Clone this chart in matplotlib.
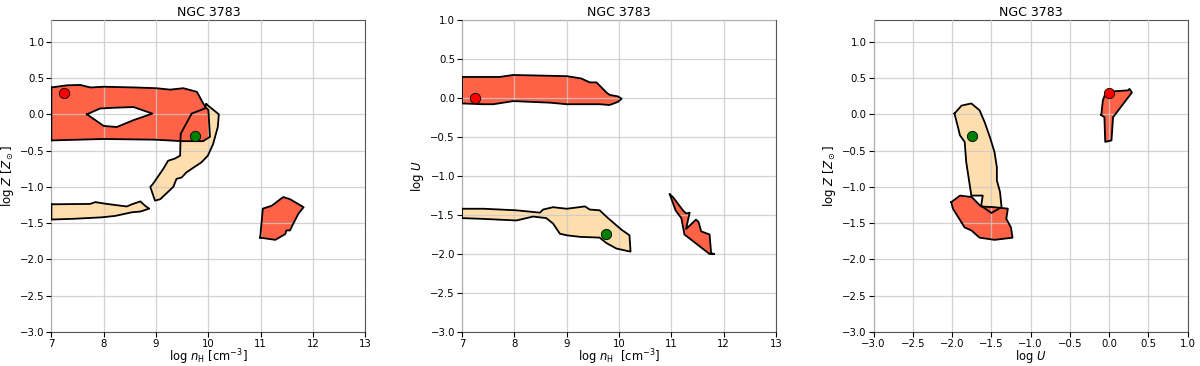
import numpy as np
import matplotlib
matplotlib.use("Agg")
import matplotlib.pyplot as plt
from matplotlib.path import Path
from matplotlib.patches import PathPatch

RED = "tomato"
BEIGE = "navajowhite"

# --- panel 1: log nH vs log Z ---
p1_red_x = [7.0, 7.3, 7.55, 7.75, 8.0, 8.6, 9.0, 9.27, 9.52, 9.78, 9.94, 10.0, 10.03, 9.9, 9.5, 9.0, 8.0, 7.0]
p1_red_y = [0.37, 0.40, 0.405, 0.37, 0.38, 0.37, 0.36, 0.34, 0.36, 0.31, 0.10, 0.06, -0.31, -0.37, -0.37, -0.35, -0.34, -0.36]
p1_hole_x = [7.68, 7.93, 8.18, 8.57, 8.93, 8.57, 8.25, 8.0]
p1_hole_y = [0.0, 0.08, 0.09, 0.10, 0.01, -0.08, -0.175, -0.16]
p1_beige_x = [9.96, 10.2, 10.18, 10.09, 9.99, 9.87, 9.58, 9.49, 9.39, 9.33, 9.08, 8.98, 8.89, 8.94,
              9.14, 9.23, 9.36, 9.46, 9.47, 9.68, 9.93]
p1_beige_y = [0.14, 0.0, -0.175, -0.41, -0.57, -0.66, -0.8, -0.87, -0.89, -1.0, -1.17, -1.19, -1.0, -0.96,
              -0.75, -0.64, -0.61, -0.57, -0.27, 0.01, 0.08]
p1_strip_x = [7.0, 7.74, 7.84, 8.06, 8.44, 8.54, 8.70, 8.79, 8.87, 8.70, 8.54, 8.22, 7.96, 7.42, 7.0]
p1_strip_y = [-1.24, -1.235, -1.21, -1.235, -1.27, -1.24, -1.20, -1.26, -1.30, -1.34, -1.35, -1.40, -1.42, -1.44, -1.45]
p1_blob_x = [10.99, 11.04, 11.21, 11.43, 11.56, 11.82, 11.72, 11.62, 11.56, 11.49, 11.47, 11.28]
p1_blob_y = [-1.70, -1.30, -1.26, -1.14, -1.17, -1.28, -1.37, -1.51, -1.60, -1.60, -1.65, -1.73]

# --- panel 2: log nH vs log U ---
p2_red_x = [7.0, 7.72, 7.98, 9.0, 9.28, 9.44, 9.57, 9.76, 9.82, 9.98, 10.05, 9.98, 9.82, 9.63, 9.0,
            8.68, 7.98, 7.60, 7.41, 7.0]
p2_red_y = [0.27, 0.27, 0.295, 0.28, 0.25, 0.20, 0.20, 0.07, 0.04, 0.02, -0.01, -0.05, -0.09, -0.08, -0.08,
            -0.06, -0.04, -0.08, -0.08, -0.07]
p2_beige_x = [7.0, 7.41, 8.04, 8.49, 8.55, 8.74, 9.0, 9.35, 9.44, 9.63, 9.79, 10.05, 10.2, 10.22, 9.95,
              9.76, 9.63, 9.25, 9.0, 8.87, 8.74, 8.61, 8.36, 8.04, 7.72, 7.41, 7.0]
p2_beige_y = [-1.42, -1.42, -1.44, -1.47, -1.43, -1.40, -1.42, -1.39, -1.43, -1.44, -1.54, -1.69, -1.76, -1.97, -1.93,
              -1.86, -1.79, -1.78, -1.76, -1.74, -1.61, -1.54, -1.52, -1.57, -1.56, -1.55, -1.54]
p2_zig_x = [10.97, 11.03, 11.22, 11.28, 11.35, 11.28, 11.47, 11.52, 11.57, 11.73, 11.76, 11.82, 11.73, 11.25, 11.19, 11.08]
p2_zig_y = [-1.235, -1.27, -1.44, -1.48, -1.47, -1.68, -1.56, -1.59, -1.71, -1.75, -1.99, -2.0, -2.0, -1.75, -1.54, -1.44]

# --- panel 3: log U vs log Z ---
p3_beige_x = [-1.97, -1.88, -1.755, -1.65, -1.585, -1.52, -1.46, -1.43, -1.43, -1.39, -1.37, -1.5, -1.63,
              -1.61, -1.755, -1.82, -1.84, -1.90, -1.92]
p3_beige_y = [0.01, 0.12, 0.15, 0.055, -0.11, -0.31, -0.52, -0.73, -0.91, -1.07, -1.28, -1.36, -1.26,
              -1.12, -1.12, -0.66, -0.38, -0.29, -0.2]
p3_red_x = [-2.01, -1.90, -1.75, -1.66, -1.63, -1.46, -1.29, -1.31, -1.25, -1.23, -1.46, -1.65, -1.755, -1.84, -1.99]
p3_red_y = [-1.21, -1.12, -1.14, -1.24, -1.27, -1.28, -1.30, -1.44, -1.56, -1.70, -1.73, -1.70, -1.60, -1.56, -1.30]
p3_small_x = [-0.10, -0.08, -0.04, 0.24, 0.26, 0.29, 0.05, 0.03, -0.05, -0.06]
p3_small_y = [-0.01, 0.19, 0.31, 0.33, 0.35, 0.30, -0.04, -0.36, -0.38, -0.04]

# best-fit points (red, green) per panel
p1_pts = [(7.25, 0.3), (9.75, -0.3)]
p2_pts = [(7.25, 0.0), (9.75, -1.75)]
p3_pts = [(0.0, 0.3), (-1.75, -0.3)]


def outline(ax, x, y):
    ax.plot(list(x) + [x[0]], list(y) + [y[0]], color="black", lw=1.3, zorder=3)


def draw(ax, beige, red, pts):
    for x, y in beige:
        ax.fill(x, y, color=BEIGE, lw=0, zorder=1)
    for x, y in red:
        ax.fill(x, y, color=RED, lw=0, zorder=1.2)
    for x, y in beige + red:
        outline(ax, x, y)
    for (px, py), c in zip(pts, ["red", "green"]):
        ax.scatter(px, py, s=55, color=c, edgecolor="black", linewidth=0.6, zorder=5)


def style(ax, title):
    ax.set_title(title, fontsize=9, pad=3)
    ax.grid(True, color="#c8c8c8", lw=0.9, alpha=0.8)
    ax.set_axisbelow(False)
    ax.tick_params(labelsize=7.3, pad=1.5)
    for s in ax.spines.values():
        s.set_color("#555555")


fig = plt.figure(figsize=(12, 3.66), dpi=100)
h = 0.8525
b = 0.0929
w = 0.2617
lab = dict(fontsize=8.3, labelpad=-1)

ax1 = fig.add_axes([0.0428, b, w, h])
draw(ax1, [(p1_beige_x, p1_beige_y), (p1_strip_x, p1_strip_y)], [(p1_blob_x, p1_blob_y)], p1_pts)
# red band with hole
verts = list(zip(p1_red_x, p1_red_y)) + [(p1_red_x[0], p1_red_y[0])]
hole = list(zip(p1_hole_x, p1_hole_y))[::-1]
hole = hole + [hole[0]]
codes = [Path.MOVETO] + [Path.LINETO] * (len(verts) - 2) + [Path.CLOSEPOLY]
codes += [Path.MOVETO] + [Path.LINETO] * (len(hole) - 2) + [Path.CLOSEPOLY]
ax1.add_patch(PathPatch(Path(verts + hole, codes), facecolor=RED, lw=0, zorder=1.2))
outline(ax1, p1_red_x, p1_red_y)
outline(ax1, p1_hole_x, p1_hole_y)
ax1.set_xlim(7, 13)
ax1.set_ylim(-3, 1.3)
ax1.set_xticks(np.arange(7, 14, 1))
ax1.set_yticks(np.arange(-3, 1.01, 0.5))
ax1.set_xlabel(r"$\log\,n_{\rm H}\ [{\rm cm^{-3}}]$", **lab)
ax1.set_ylabel(r"$\log\,Z\ [Z_\odot]$", fontsize=8.5, labelpad=3)
style(ax1, "NGC 3783")

ax2 = fig.add_axes([0.385, b, w, h])
draw(ax2, [(p2_beige_x, p2_beige_y)], [(p2_red_x, p2_red_y), (p2_zig_x, p2_zig_y)], p2_pts)
ax2.set_xlim(7, 13)
ax2.set_ylim(-3, 1.0)
ax2.set_xticks(np.arange(7, 14, 1))
ax2.set_yticks(np.arange(-3, 1.01, 0.5))
ax2.set_xlabel(r"$\log\,n_{\rm H}\ \ [{\rm cm^{-3}}]$", **lab)
ax2.set_ylabel(r"$\log\,U$", fontsize=8.5, labelpad=3)
style(ax2, "NGC 3783")

ax3 = fig.add_axes([0.728, b, w, h])
draw(ax3, [(p3_beige_x, p3_beige_y)], [(p3_red_x, p3_red_y), (p3_small_x, p3_small_y)], p3_pts)
ax3.set_xlim(-3, 1)
ax3.set_ylim(-3, 1.3)
ax3.set_xticks(np.arange(-3, 1.01, 0.5))
ax3.set_yticks(np.arange(-3, 1.01, 0.5))
ax3.set_xlabel(r"$\log\,U$", **lab)
ax3.set_ylabel(r"$\log\,Z\ [Z_\odot]$", fontsize=8.5, labelpad=3)
style(ax3, "NGC 3783")

fig.savefig("out.png", dpi=100)
